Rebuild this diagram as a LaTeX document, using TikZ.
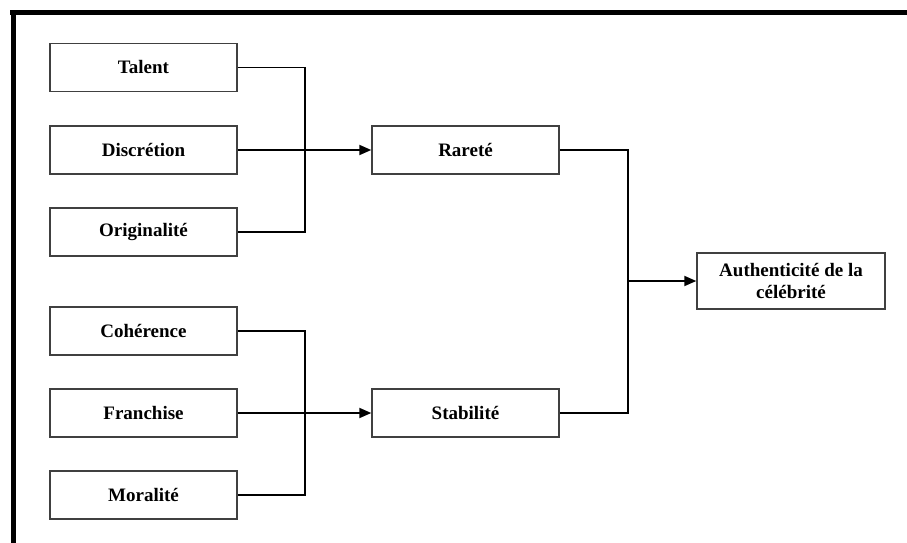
\documentclass[tikz,border=0pt]{standalone}
\usepackage{fontspec}
\setmainfont{Liberation Serif}
\usetikzlibrary{arrows.meta,positioning,calc}

\begin{document}
\begin{tikzpicture}[
  x=1pt, y=-1pt,
  critere/.style={draw=black!75, line width=1.4pt, rectangle, minimum width=187pt, minimum height=48pt,
                  inner sep=2pt, text centered, font=\fontsize{19}{23}\selectfont\bfseries},
  lien/.style={line width=1.8pt, black},
  fleche/.style={lien, -{Triangle[length=12pt,width=10pt]}}
]

% page and frame
\useasboundingbox (0,0) rectangle (907,543);
\fill[white] (0,0) rectangle (907,543);
\draw[line width=5pt] (10,13) -- (907,13);
\draw[line width=5pt] (13,10.5) -- (13,543);

% Rarete group
\node[critere] (talent) at (143.5, 67.5) {Talent};
\node[critere] (discretion) at (143.5, 150) {Discrétion};
\node[critere] (originalite) at (143.5, 232) {Originalité};
\node[critere] (rarete) at (465.5, 150) {Rareté};

% Stabilite group
\node[critere] (coherence) at (143.5, 331) {Cohérence};
\node[critere] (franchise) at (143.5, 413) {Franchise};
\node[critere] (moralite) at (143.5, 495) {Moralité};
\node[critere] (stabilite) at (465.5, 413) {Stabilité};

% Result
\node[critere, minimum width=188pt, minimum height=56pt, align=center] (authenticite) at (791, 281)
  {Authenticité de la\\[-1pt] célébrité};

% junctions
\coordinate (jR) at (305, 150);
\coordinate (jS) at (305, 413);
\coordinate (jA) at (628, 281);

% connectors
\draw[lien] (talent) -| (jR) |- (originalite);
\draw[fleche] (discretion) -- (rarete);
\draw[lien] (coherence) -| (jS) |- (moralite);
\draw[fleche] (franchise) -- (stabilite);
\draw[lien] (rarete) -| (jA) |- (stabilite);
\draw[fleche] (jA) -- (authenticite);

\end{tikzpicture}
\end{document}
